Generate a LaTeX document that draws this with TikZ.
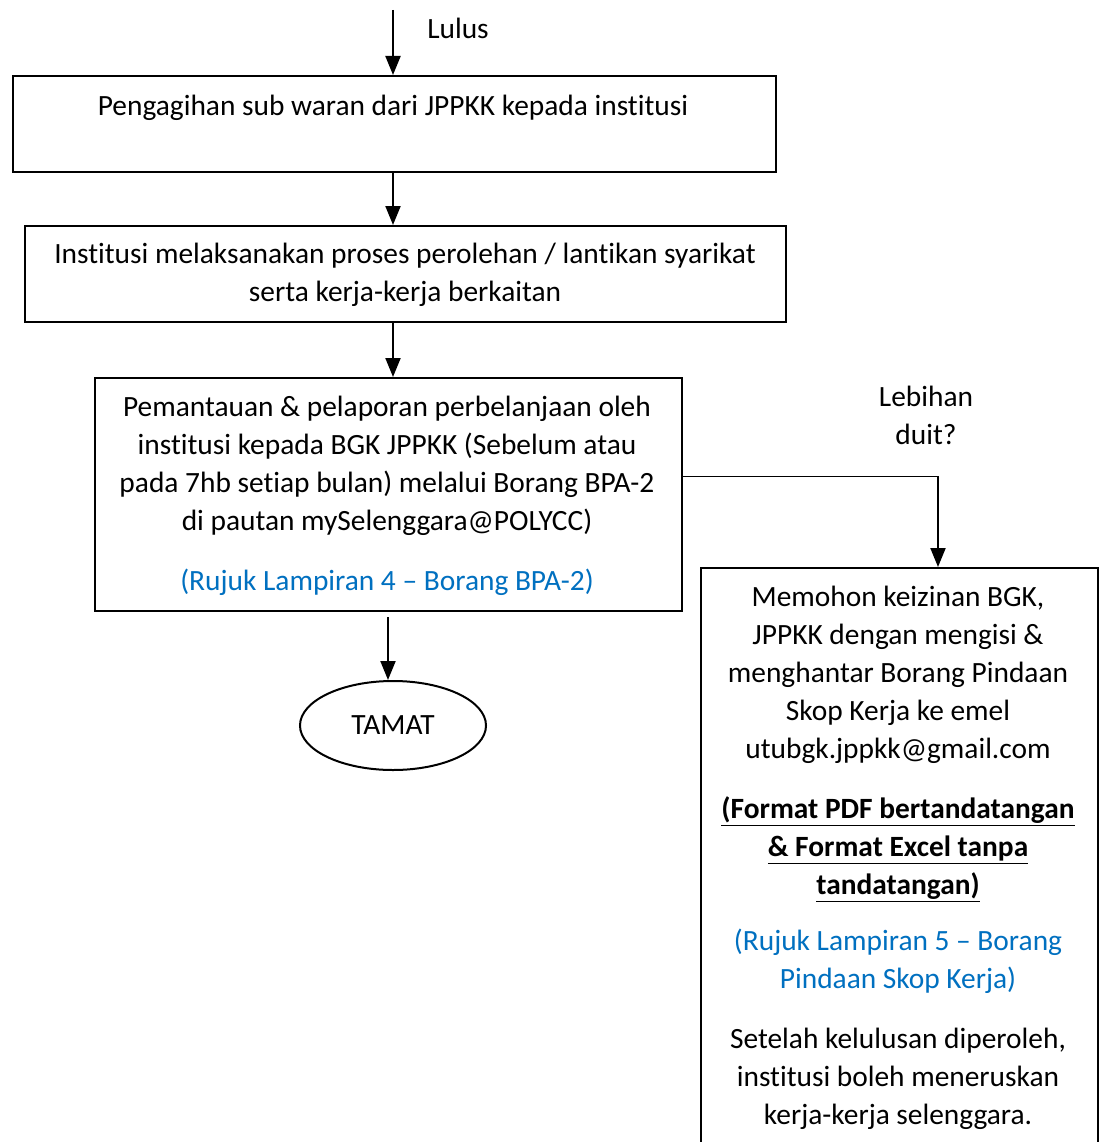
\documentclass[tikz,border=0pt]{standalone}
\usepackage{fontspec}
\setmainfont{Carlito}[Ligatures=NoCommon]
\usetikzlibrary{shapes.geometric,arrows.meta}
\definecolor{refblue}{HTML}{0070C0}
\begin{document}
\begin{tikzpicture}[x=1pt,y=-1pt,
  box/.style={draw,line width=2pt,inner sep=0pt,anchor=north west},
  txt/.style={inner sep=0pt,align=center,anchor=north,font=\fontsize{29.4}{38}\selectfont},
  arr/.style={line width=2pt,-{Triangle[width=15pt,length=19pt]}},
  thin/.style={line width=1pt}]
\clip (0,0) rectangle (1104,1142);
\fill[white] (0,0) rectangle (1104,1142);
% boxes
\node[box,minimum width=763pt,minimum height=96pt] (b1) at (12,75) {};
\node[box,minimum width=761pt,minimum height=96pt] (b2) at (24,225) {};
\node[box,minimum width=587pt,minimum height=233pt] (b3) at (94,377) {};
\node[box,minimum width=397pt,minimum height=620pt] (b4) at (700,567) {};
\node[draw,ellipse,line width=2pt,minimum width=186pt,minimum height=89pt,inner sep=0pt,
  font=\fontsize{29.4}{38}\selectfont] (tamat) at (393,725.5) {TAMAT};
% texts
\node[txt] (t1) at (393,89) {\strut Pengagihan sub waran dari JPPKK kepada institusi};
\node[txt] (t2) at (405,237) {\strut Institusi melaksanakan proses perolehan / lantikan syarikat\\serta kerja-kerja berkaitan};
\node[txt] (t3) at (387,390) {\strut Pemantauan \& pelaporan perbelanjaan oleh\\institusi kepada BGK JPPKK (Sebelum atau\\pada 7hb setiap bulan) melalui Borang BPA-2\\di pautan mySelenggara@POLYCC)\\[22pt]\textcolor{refblue}{(Rujuk Lampiran 4 – Borang BPA-2)}};
\node[txt] (t4) at (898,580) {\strut Memohon keizinan BGK,\\JPPKK dengan mengisi \&\\menghantar Borang Pindaan\\Skop Kerja ke emel\\utubgk.jppkk@gmail.com\\[22pt]
\textbf{\underline{(Format PDF bertandatangan}}\\\textbf{\underline{\& Format Excel tanpa}}\\\textbf{\underline{tandatangan)}}\\[18pt]
\textcolor{refblue}{(Rujuk Lampiran 5 – Borang}\\\textcolor{refblue}{Pindaan Skop Kerja)}\\[22pt]
Setelah kelulusan diperoleh,\\institusi boleh meneruskan\\kerja-kerja selenggara.};
\node[txt] (lulus) at (458,12) {\strut Lulus};
\node[txt] (lebih) at (926,380) {\strut Lebihan\\duit?};
% connectors
\coordinate (s0) at (393,10);
\draw[arr] (s0) -- (s0 |- b1.north);
\draw[arr] (b1.south -| s0) -- (s0 |- b2.north);
\draw[arr] (b2.south -| s0) -- (s0 |- b3.north);
\coordinate (s3) at (388,617);
\draw[arr] (s3) -- (s3 |- tamat.north);
\coordinate (k) at (938,476);
\draw[thin] (b3.east |- k) -- (k);
\draw[arr] (k) -- (k |- b4.north);
\end{tikzpicture}
\end{document}
